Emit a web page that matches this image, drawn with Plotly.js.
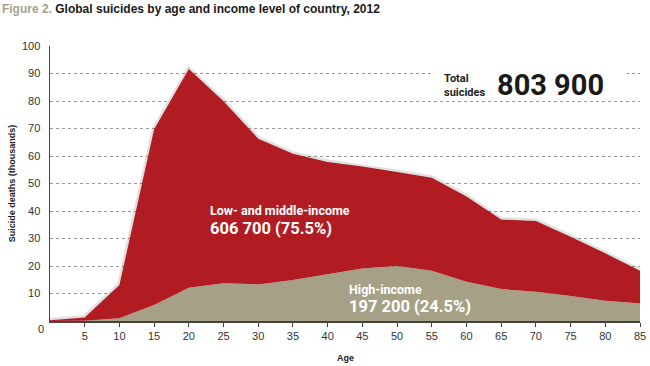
<!DOCTYPE html>
<html>
<head>
<meta charset="utf-8">
<script src="https://cdn.plot.ly/plotly-3.0.1.min.js"></script>
<style>html,body{margin:0;padding:0;background:#fff;}#chart{width:650px;height:366px;}</style>
</head>
<body>
<div id="chart"></div>
<script>
// Age groups
var ages = [0, 5, 10, 15, 20, 25, 30, 35, 40, 45, 50, 55, 60, 65, 70, 75, 80, 85];
// Suicide deaths (thousands), high-income countries
var highIncome = [0, 0.1, 1.0, 5.8, 12.1, 13.7, 13.3, 14.9, 17.0, 19.1, 20.0, 18.3, 14.3, 11.6, 10.6, 9.1, 7.4, 6.4];
// Suicide deaths (thousands), low- and middle-income countries
var lowMiddleIncome = [0.3, 1.2, 12.1, 63.9, 79.5, 66.2, 53.0, 45.9, 40.8, 37.1, 34.2, 33.8, 31.0, 25.3, 25.8, 21.5, 17.2, 11.9];
var xTicks = [5, 10, 15, 20, 25, 30, 35, 40, 45, 50, 55, 60, 65, 70, 75, 80, 85];
var yTicks = [10, 20, 30, 40, 50, 60, 70, 80, 90, 100];

var totals = ages.map(function(_, i){ return highIncome[i] + lowMiddleIncome[i]; });

var red = '#B11C23';
var tan = '#A6A087';

var traces = [
  { x: ages, y: totals, mode: 'lines', line: {color: 'rgba(0,0,0,0.12)', width: 5}, hoverinfo: 'skip', showlegend: false },
  { x: ages, y: highIncome, stackgroup: 'a', mode: 'none', fillcolor: tan, name: 'High-income', showlegend: false },
  { x: ages, y: lowMiddleIncome, stackgroup: 'a', mode: 'none', fillcolor: red, name: 'Low- and middle-income', showlegend: false }
];

var layout = {
  width: 650, height: 366,
  margin: {l: 50, r: 10, t: 46, b: 45},
  paper_bgcolor: '#fff', plot_bgcolor: '#fff',
  font: {family: 'Liberation Sans, Arial, sans-serif', size: 11, color: '#333'},
  title: {
    text: '<span style="color:#A8A18A">Figure 2.</span> Global suicides by age and income level of country, 2012',
    font: {family: 'Liberation Sans, Arial, sans-serif', size: 12, color: '#1a1a1a', weight: 'bold'},
    xref: 'container', yref: 'container', x: 0.003, xanchor: 'left', y: 0.975, yanchor: 'middle'
  },
  xaxis: {
    range: [0, 85], tickvals: xTicks, ticktext: xTicks.map(String),
    showgrid: false, zeroline: false,
    showline: true, linecolor: '#444', linewidth: 1.5,
    ticks: 'outside', ticklen: 4, tickcolor: '#444',
    tickfont: {size: 11, color: '#333'}
  },
  yaxis: {
    range: [0, 100], tickvals: yTicks, ticktext: yTicks.map(String),
    showgrid: true, gridcolor: '#9a9a9a', griddash: 'dot', gridwidth: 1,
    zeroline: false, showline: true, linecolor: '#444', linewidth: 1.5,
    ticks: '', ticklabelstandoff: 6,
    tickfont: {size: 11, color: '#333'}
  },
  annotations: [
    {xref: 'paper', yref: 'paper', x: -0.006, y: -0.029, text: '0', showarrow: false, xanchor: 'right', yanchor: 'middle', font: {size: 11, color: '#333'}},
    {xref: 'paper', yref: 'paper', x: -0.065, y: 0.5, text: 'Suicide deaths (thousands)', textangle: -90, showarrow: false, xanchor: 'center', yanchor: 'middle', font: {size: 9, color: '#222', weight: 'bold'}},
    {xref: 'paper', yref: 'paper', x: 0.5, y: -0.135, text: 'Age', showarrow: false, xanchor: 'center', yanchor: 'middle', font: {size: 9, color: '#222', weight: 'bold'}},
    {xref: 'paper', yref: 'paper', x: 0.645, y: 0.895, text: ' ', showarrow: false, xanchor: 'left', yanchor: 'middle', width: 192, height: 44, bgcolor: '#fff'},
    {xref: 'paper', yref: 'paper', x: 0.665, y: 0.855, text: 'Total<br>suicides', align: 'left', showarrow: false, xanchor: 'left', yanchor: 'middle', font: {family: 'Roboto, sans-serif', size: 11, color: '#222', weight: 'bold'}},
    {xref: 'paper', yref: 'paper', x: 0.755, y: 0.86, text: '803 900', showarrow: false, xanchor: 'left', yanchor: 'middle', font: {family: 'Roboto, sans-serif', size: 29, color: '#1a1a1a', weight: 'bold'}},
    {xref: 'x', yref: 'y', x: 22.8, y: 40.3, text: 'Low- and middle-income', showarrow: false, xanchor: 'left', yanchor: 'middle', font: {family: 'Roboto, sans-serif', size: 12.5, color: '#fff', weight: 'bold'}},
    {xref: 'x', yref: 'y', x: 22.8, y: 33.7, text: '606 700 (75.5%)', showarrow: false, xanchor: 'left', yanchor: 'middle', font: {family: 'Roboto, sans-serif', size: 16.5, color: '#fff', weight: 'bold'}},
    {xref: 'x', yref: 'y', x: 42.8, y: 11.6, text: 'High-income', showarrow: false, xanchor: 'left', yanchor: 'middle', font: {family: 'Roboto, sans-serif', size: 12.5, color: '#fff', weight: 'bold'}},
    {xref: 'x', yref: 'y', x: 42.8, y: 5.1, text: '197 200 (24.5%)', showarrow: false, xanchor: 'left', yanchor: 'middle', font: {family: 'Roboto, sans-serif', size: 16.5, color: '#fff', weight: 'bold'}}
  ]
};

Plotly.newPlot('chart', traces, layout, {displayModeBar: false, staticPlot: true});
</script>
</body>
</html>
